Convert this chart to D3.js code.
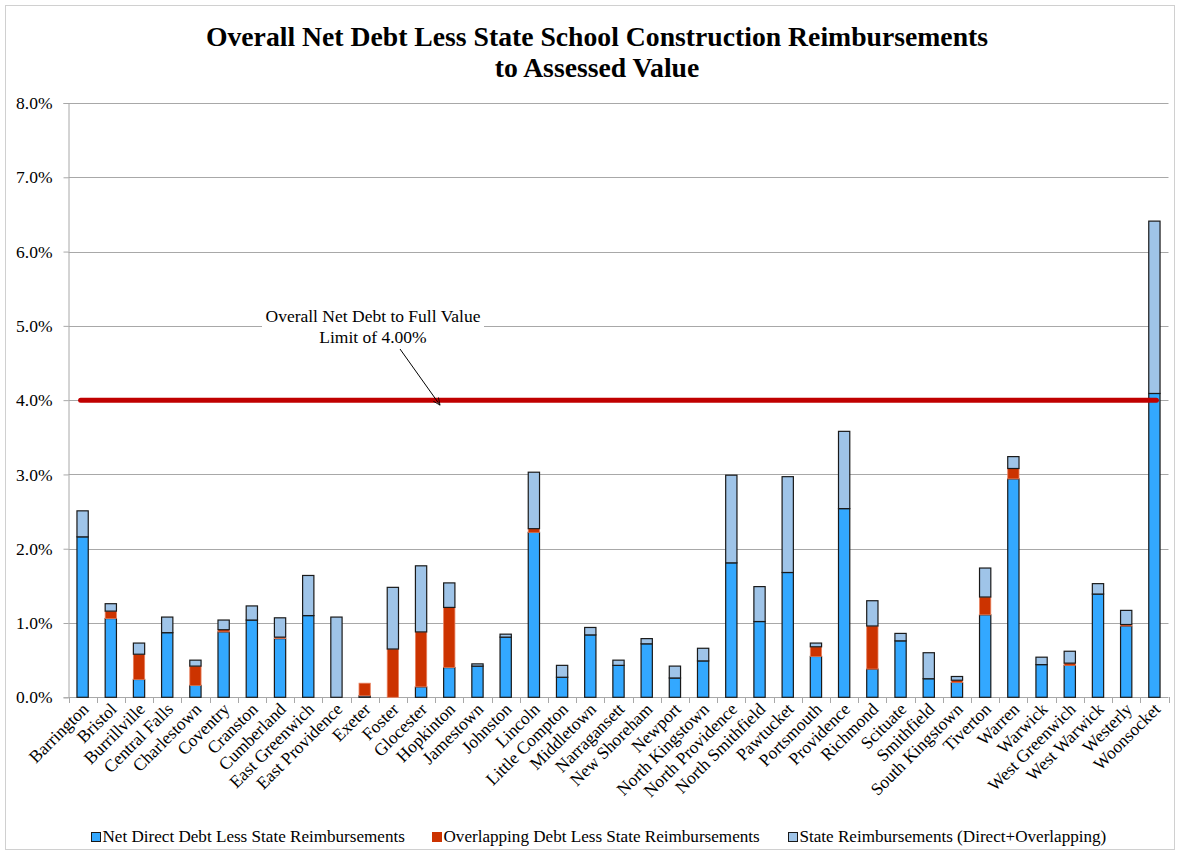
<!DOCTYPE html>
<html>
<head>
<meta charset="utf-8">
<script src="https://cdn.jsdelivr.net/npm/d3@7"></script>
<style>
  html, body { margin: 0; padding: 0; background: #fff; }
  svg { display: block; }
  text { font-family: "Liberation Serif", "Times New Roman", serif; fill: #000; }
</style>
</head>
<body>
<svg id="chart" width="1180" height="855"></svg>
<script>
// Municipalities (x categories)
const towns = [
  "Barrington", "Bristol", "Burrillville", "Central Falls", "Charlestown", "Coventry",
  "Cranston", "Cumberland", "East Greenwich", "East Providence", "Exeter", "Foster",
  "Glocester", "Hopkinton", "Jamestown", "Johnston", "Lincoln", "Little Compton",
  "Middletown", "Narragansett", "New Shoreham", "Newport", "North Kingstown",
  "North Providence", "North Smithfield", "Pawtucket", "Portsmouth", "Providence",
  "Richmond", "Scituate", "Smithfield", "South Kingstown", "Tiverton", "Warren",
  "Warwick", "West Greenwich", "West Warwick", "Westerly", "Woonsocket"
];

// Percent of assessed value
const netDirect = [
  2.16, 1.06, 0.24, 0.87, 0.16, 0.88, 1.04, 0.79, 1.10, 0.00, 0.02, 0.00, 0.14,
  0.40, 0.42, 0.81, 2.22, 0.27, 0.84, 0.43, 0.72, 0.26, 0.49, 1.81, 1.02, 1.68,
  0.55, 2.54, 0.38, 0.76, 0.25, 0.20, 1.11, 2.94, 0.44, 0.43, 1.39, 0.96, 4.09
];
const overlapping = [
  0.00, 0.10, 0.34, 0.00, 0.26, 0.03, 0.00, 0.02, 0.00, 0.00, 0.17, 0.65, 0.74,
  0.81, 0.00, 0.00, 0.05, 0.00, 0.00, 0.00, 0.00, 0.00, 0.00, 0.00, 0.00, 0.00,
  0.13, 0.00, 0.58, 0.00, 0.00, 0.03, 0.24, 0.14, 0.00, 0.03, 0.00, 0.02, 0.00
];
const stateReimb = [
  0.35, 0.10, 0.15, 0.21, 0.08, 0.13, 0.19, 0.26, 0.54, 1.08, 0.00, 0.83, 0.89,
  0.33, 0.03, 0.04, 0.76, 0.16, 0.10, 0.07, 0.07, 0.16, 0.17, 1.18, 0.47, 1.29,
  0.05, 1.04, 0.34, 0.10, 0.35, 0.05, 0.39, 0.16, 0.10, 0.16, 0.14, 0.19, 2.32
];

const seriesNames = [
  "Net Direct Debt Less State Reimbursements",
  "Overlapping Debt Less State Reimbursements",
  "State Reimbursements (Direct+Overlapping)"
];
const yTicks = [0, 1, 2, 3, 4, 5, 6, 7, 8];
const debtLimit = 4.0;
const titleLines = ["Overall Net Debt Less State School Construction Reimbursements", "to Assessed Value"];
const noteLines = ["Overall Net Debt to Full Value", "Limit of 4.00%"];

const colors = ["#33a8ff", "#cc3300", "#9fc4e8"];
const strokes = ["#1a1a1a", "#e8805e", "#1a1a1a"];
const FS = 17.5;

const svg = d3.select("#chart");
const W = 1180, H = 855;
const plot = { left: 68.5, right: 1168.5, top: 103, bottom: 697.3 };

// outer frame
svg.append("rect")
  .attr("x", 5.5).attr("y", 5.5).attr("width", W - 11).attr("height", H - 11)
  .attr("fill", "#fff").attr("stroke", "#d0d0d0").attr("stroke-width", 1);

// title
svg.append("g").selectAll("text").data(titleLines).join("text")
  .attr("x", 597).attr("y", (d, i) => 46 + i * 31)
  .attr("text-anchor", "middle")
  .attr("font-size", 27.7).attr("font-weight", "bold")
  .text(d => d);

const x = d3.scaleBand().domain(towns).range([plot.left, plot.right]).paddingInner(0.6).paddingOuter(0.3);
const xb = d3.scaleBand().domain(towns).range([plot.left, plot.right]);
const y = d3.scaleLinear().domain([0, 8]).range([plot.bottom, plot.top]);

// gridlines
svg.append("g").selectAll("line").data(yTicks.filter(t => t > 0)).join("line")
  .attr("x1", plot.left).attr("x2", plot.right)
  .attr("y1", d => Math.round(y(d)) + 0.5).attr("y2", d => Math.round(y(d)) + 0.5)
  .attr("stroke", "#a8a8a8").attr("stroke-width", 1);

// y axis
const yAxis = d3.axisLeft(y).tickValues(yTicks).tickSize(5).tickPadding(11)
  .tickFormat(d => d.toFixed(1) + "%");
const gy = svg.append("g").attr("transform", `translate(${plot.left},0)`).call(yAxis)
  .attr("font-family", null).attr("font-size", null);
gy.select(".domain").attr("stroke", "#a8a8a8");
gy.selectAll(".tick line").attr("stroke", "#a8a8a8");
gy.selectAll(".tick text").attr("font-size", FS).attr("fill", "#000");

// x axis line and category boundary ticks
svg.append("line")
  .attr("x1", plot.left).attr("x2", plot.right)
  .attr("y1", Math.round(y(0)) + 0.5).attr("y2", Math.round(y(0)) + 0.5)
  .attr("stroke", "#a8a8a8");
const bounds = towns.map(t => xb(t)).concat([plot.right]);
svg.append("g").selectAll("line").data(bounds).join("line")
  .attr("x1", d => Math.round(d) + 0.5).attr("x2", d => Math.round(d) + 0.5)
  .attr("y1", Math.round(y(0))).attr("y2", Math.round(y(0)) + 6)
  .attr("stroke", "#a8a8a8");

// x labels
svg.append("g").selectAll("text").data(towns).join("text")
  .attr("transform", d => `translate(${x(d) + x.bandwidth() / 2 + 7},${y(0) + 13}) rotate(-45)`)
  .attr("text-anchor", "end")
  .attr("font-size", FS)
  .text(d => d);

// stacked bars
const rows = towns.map((t, i) => ({ town: t, s0: netDirect[i], s1: overlapping[i], s2: stateReimb[i] }));
const stack = d3.stack().keys(["s0", "s1", "s2"])(rows);
const gBars = svg.append("g");
stack.forEach((layer, li) => {
  gBars.append("g").selectAll("rect").data(layer.filter(d => d[1] - d[0] > 0.001)).join("rect")
    .attr("x", d => x(d.data.town))
    .attr("width", x.bandwidth())
    .attr("y", d => y(d[1]))
    .attr("height", d => y(d[0]) - y(d[1]))
    .attr("fill", colors[li])
    .attr("stroke", strokes[li])
    .attr("stroke-width", li === 1 ? 0.8 : 1.2);
});

// debt limit line
svg.append("line")
  .attr("x1", x(towns[0]) + x.bandwidth() / 2 - 2)
  .attr("x2", x(towns[towns.length - 1]) + x.bandwidth() / 2 + 2)
  .attr("y1", y(debtLimit)).attr("y2", y(debtLimit))
  .attr("stroke", "#c00000").attr("stroke-width", 5).attr("stroke-linecap", "round");

// annotation with arrow
svg.append("defs").append("marker")
  .attr("id", "arrowHead").attr("viewBox", "0 0 10 10").attr("refX", 9).attr("refY", 5)
  .attr("markerWidth", 8).attr("markerHeight", 8).attr("orient", "auto")
  .append("path").attr("d", "M0,1 L9,5 L0,9").attr("fill", "none").attr("stroke", "#000").attr("stroke-width", 1);

svg.append("rect").attr("x", 262).attr("y", 305).attr("width", 222).attr("height", 44).attr("fill", "#fff");
svg.append("g").selectAll("text").data(noteLines).join("text")
  .attr("x", 373).attr("y", (d, i) => 322 + i * 21)
  .attr("text-anchor", "middle").attr("font-size", FS)
  .text(d => d);
svg.append("line")
  .attr("x1", 400).attr("y1", 349).attr("x2", 440).attr("y2", y(debtLimit) + 5)
  .attr("stroke", "#000").attr("stroke-width", 1).attr("marker-end", "url(#arrowHead)");

// legend
const legendX = [91, 432, 788];
const lg = svg.append("g").selectAll("g").data(seriesNames).join("g")
  .attr("transform", (d, i) => `translate(${legendX[i]},832)`);
lg.append("rect").attr("x", 0.5).attr("y", 0.5).attr("width", 9).attr("height", 9)
  .attr("fill", (d, i) => colors[i]).attr("stroke", (d, i) => i === 1 ? colors[1] : "#1a1a1a");
lg.append("text").attr("x", 11.5).attr("y", 10).attr("font-size", 17.1).text(d => d);
</script>
</body>
</html>
